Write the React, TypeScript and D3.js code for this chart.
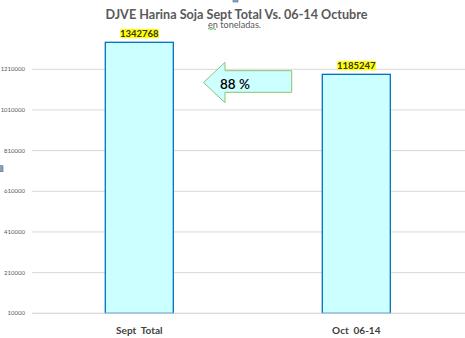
import React from "react";
import * as d3 from "d3";

const categories = ["Sept  Total", "Oct  06-14"];
const values = [1342768, 1185247];
const tickValues = [10000, 210000, 410000, 610000, 810000, 1010000, 1210000];
const titleText = "DJVE Harina Soja Sept Total Vs. 06-14 Octubre";
const subtitleText = "toneladas.";
const pctText = "88 %";

const W = 465;
const H = 338;

export default function App() {
  const plotLeft = 32;
  const plotRight = 465;
  const y = d3.scaleLinear().domain([10000, 1210000]).range([313.3, 69.3]);
  const xc = d3.scalePoint().domain(categories).range([139.3, 356.3]);
  const barW = 68;
  const font = "Lato, 'Open Sans', sans-serif";
  const arrowPts: [number, number][] = [
    [203.5, 82.5],
    [225, 62.3],
    [225, 70.7],
    [291.7, 70.7],
    [291.7, 92.3],
    [225, 92.3],
    [225, 102.7],
  ];
  const line = d3.line();
  return (
    <svg width={W} height={H} style={{ position: "absolute", left: 0, top: 0, background: "#fff" }}>
      <rect x={0} y={0} width={W} height={H} fill="#fff" />
      <rect x={233} y={-1} width={5} height={3} fill="#8aa0bf" stroke="#5a6f8f" strokeWidth={0.6} />
      <rect x={-1} y={165.7} width={4} height={6} fill="#8aa0bf" stroke="#5a6f8f" strokeWidth={0.6} />
      {tickValues.map((t) => (
        <g key={t}>
          <line x1={plotLeft} x2={plotRight} y1={y(t)} y2={y(t)} stroke="#d9d9d9" strokeWidth={1} />
          <text x={25} y={y(t) + 2} fontSize={6} fontFamily={font} fill="#595959" textAnchor="end">
            {t}
          </text>
        </g>
      ))}
      {categories.map((c, i) => {
        const cx = xc(c)!;
        const top = y(values[i]);
        return (
          <g key={c}>
            <rect x={cx - barW / 2} y={top} width={barW} height={y(10000) - top} fill="#ccffff" stroke="#0070c0" strokeWidth={1.3} />
            <rect x={cx - 19} y={top - 13.3} width={38.5} height={9.3} fill="#ffff00" />
            <text x={cx} y={top - 5.3} fontSize={9.5} fontWeight="bold" fontFamily={font} fill="#333" textAnchor="middle">
              {values[i]}
            </text>
            <text x={cx} y={y(10000) + 21} fontSize={10} fontWeight="bold" fontFamily={font} fill="#404040" textAnchor="middle" style={{ whiteSpace: "pre" }}>
              {c}
            </text>
          </g>
        );
      })}
      <line x1={plotLeft} x2={plotRight} y1={y(10000)} y2={y(10000)} stroke="#d9d9d9" strokeWidth={1} />
      <path d={line(arrowPts)! + "Z"} fill="#ccffff" stroke="#8cc46e" strokeWidth={1} />
      <text x={220} y={88.5} fontSize={13.5} fontFamily={font} fontWeight={600} fill="#000">
        {pctText}
      </text>
      <text x={236.5} y={19} fontSize={13.5} fontWeight="bold" fontFamily={font} fill="#595959" textAnchor="middle" textLength={262} lengthAdjust="spacingAndGlyphs">
        {titleText}
      </text>
      <text x={208} y={27.5} fontSize={8.5} fontFamily={font} fill="#595959" textLength={53} lengthAdjust="spacingAndGlyphs">
        en {subtitleText}
      </text>
      <path d="M208,29 q1,-1 2,0 t2,0 t2,0 t2,0" fill="none" stroke="#3ca03c" strokeWidth={0.8} />
    </svg>
  );
}
